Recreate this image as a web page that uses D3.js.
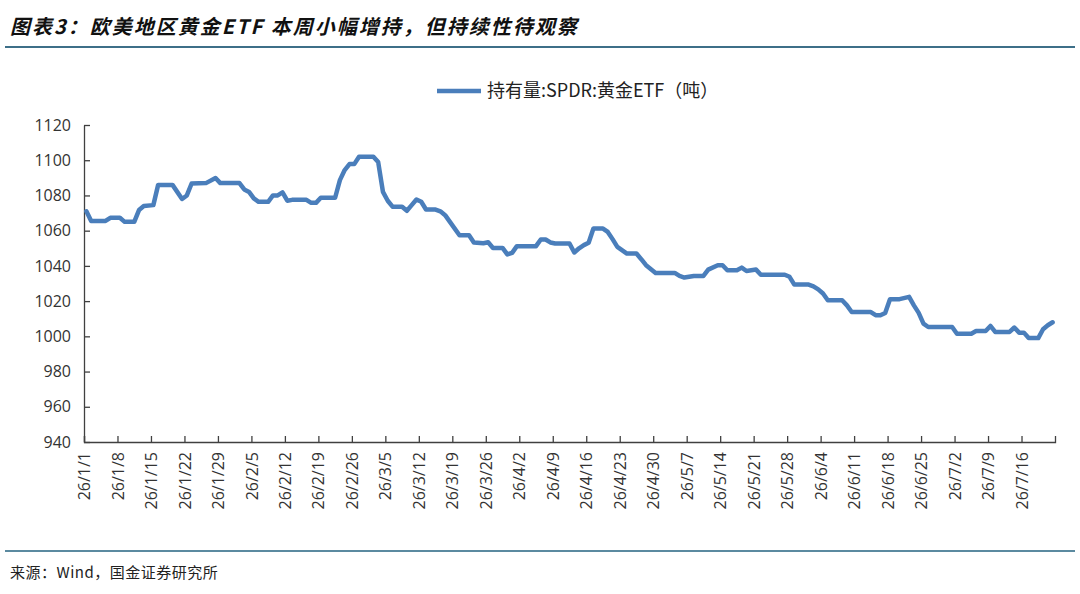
<!DOCTYPE html>
<html lang="zh">
<head>
  <meta charset="UTF-8">
  <title>欧美地区黄金ETF</title>
  <script src="https://d3js.org/d3.v7.min.js"></script>
</head>
<style>
  body{
    margin:0;
    background:#fff;
    font-family: "Noto Sans CJK SC", "Noto Sans", sans-serif;
  }
  .title{
    font-size:20px;
    font-weight:bold;
    font-style:italic;
    letter-spacing:2px;
    fill:#111;
  }
  .legend text, .source{
    fill:#222;
  }
  .axis path, .axis line{
    stroke:#404040;
    stroke-width:1.3px;
  }
  .axis text{
    font-family: "Open Sans", "Noto Sans", sans-serif;
    fill:#333;
  }
</style>
<body>
  <div id="chart"></div>
</body>
<script>
// SPDR gold ETF holdings (tonnes)
var dates = ["2026-01-01","2026-01-02","2026-01-05","2026-01-06","2026-01-08","2026-01-09","2026-01-11","2026-01-12",
  "2026-01-13","2026-01-15","2026-01-16","2026-01-19","2026-01-21","2026-01-22","2026-01-23","2026-01-26",
  "2026-01-28","2026-01-29","2026-02-02","2026-02-03","2026-02-04","2026-02-05","2026-02-06","2026-02-08",
  "2026-02-09","2026-02-10","2026-02-11","2026-02-12","2026-02-13","2026-02-16","2026-02-17","2026-02-18",
  "2026-02-19","2026-02-22","2026-02-23","2026-02-24","2026-02-25","2026-02-26","2026-02-27","2026-03-02",
  "2026-03-03","2026-03-04","2026-03-05","2026-03-06","2026-03-08","2026-03-09","2026-03-10","2026-03-11",
  "2026-03-12","2026-03-13","2026-03-15","2026-03-16","2026-03-17","2026-03-18","2026-03-20","2026-03-22",
  "2026-03-23","2026-03-25","2026-03-26","2026-03-27","2026-03-29","2026-03-30","2026-03-31","2026-04-01",
  "2026-04-05","2026-04-06","2026-04-07","2026-04-08","2026-04-09","2026-04-12","2026-04-13","2026-04-14",
  "2026-04-15","2026-04-16","2026-04-17","2026-04-19","2026-04-20","2026-04-21","2026-04-22","2026-04-24",
  "2026-04-26","2026-04-27","2026-04-28","2026-04-30","2026-05-04","2026-05-05","2026-05-06","2026-05-08",
  "2026-05-10","2026-05-11","2026-05-13","2026-05-14","2026-05-15","2026-05-17","2026-05-18","2026-05-19",
  "2026-05-21","2026-05-22","2026-05-27","2026-05-28","2026-05-29","2026-06-01","2026-06-02","2026-06-03",
  "2026-06-04","2026-06-05","2026-06-08","2026-06-09","2026-06-10","2026-06-14","2026-06-15","2026-06-16",
  "2026-06-17","2026-06-18","2026-06-20","2026-06-22","2026-06-23","2026-06-24","2026-06-25","2026-06-26",
  "2026-07-01","2026-07-02","2026-07-05","2026-07-06","2026-07-08","2026-07-09","2026-07-10","2026-07-13",
  "2026-07-14","2026-07-15","2026-07-16","2026-07-17","2026-07-19","2026-07-20","2026-07-21","2026-07-22"];
var holdings = [1071,1065.5,1065.5,1067.3,1067.3,1065,1065,1071.7,
  1074,1074.5,1086,1086,1078,1080,1086.8,1087,
  1089.9,1087,1087,1083.4,1082,1078.3,1076.4,1076.4,
  1080,1080,1081.7,1077,1077.5,1077.5,1075.8,1075.8,
  1078.7,1078.7,1088.7,1094.4,1097.8,1097.8,1102,1102,
  1099,1082,1077,1073.6,1073.6,1071.3,1074.5,1077.7,
  1076.4,1072,1072,1071,1068.8,1065,1057.4,1057.4,
  1053.3,1052.9,1053.4,1050.2,1050.2,1046.5,1047.4,1051.2,
  1051.2,1055,1055,1053.3,1052.7,1052.7,1047.6,1050,
  1051.8,1053.1,1061.2,1061.2,1059.3,1055.2,1050.8,1047,
  1047,1043.8,1040.4,1036,1036,1034.3,1033.4,1034.3,
  1034.3,1037.9,1040.4,1040.4,1037.5,1037.5,1039,1037.1,
  1037.9,1035,1035,1033.8,1029.4,1029.4,1028.4,1026.7,
  1024.3,1020.5,1020.5,1017.6,1013.8,1013.8,1012,1012,
  1013.3,1021.1,1021.1,1022.4,1017.6,1013.3,1007.2,1005.3,
  1005.3,1001.5,1001.5,1003,1003,1005.9,1002.5,1002.5,
  1005,1002.1,1002.1,999,999,1004,1006.3,1008];
var xTickLabels = ["26/1/1","26/1/8","26/1/15","26/1/22","26/1/29","26/2/5","26/2/12","26/2/19","26/2/26",
  "26/3/5","26/3/12","26/3/19","26/3/26","26/4/2","26/4/9","26/4/16","26/4/23","26/4/30","26/5/7",
  "26/5/14","26/5/21","26/5/28","26/6/4","26/6/11","26/6/18","26/6/25","26/7/2","26/7/9","26/7/16"];
var yTicks = [940,960,980,1000,1020,1040,1060,1080,1100,1120];
var seriesName = "持有量:SPDR:黄金ETF（吨）";

var width = 1080, height = 594;
// plot box (note: "top" is reserved on window, so use other names)
var plotLeft = 84, plotRight = 1055, plotTop = 125, plotBottom = 442;
var lineColour = "#4a7ebb";

var parseDate = d3.timeParse("%Y-%m-%d");
var parseTick = d3.timeParse("%y/%m/%d");

var data = dates.map(function(d, i){
  // each day sits in the middle of its slot
  return {date: d3.timeHour.offset(parseDate(d), 12), value: holdings[i]};
});
var tickDates = xTickLabels.map(function(d){ return parseTick(d); });

var xScale = d3.scaleTime()
  .domain([parseDate("2026-01-01"), parseDate("2026-07-23")])
  .range([plotLeft, plotRight]);
var yScale = d3.scaleLinear()
  .domain([940, 1120])
  .range([plotBottom, plotTop]);

var svg = d3.select("#chart").append("svg")
  .attr("width", width)
  .attr("height", height);

// title and rule
svg.append("text")
  .attr("class", "title")
  .attr("x", 10)
  .attr("y", 34)
  .text("图表3：欧美地区黄金ETF 本周小幅增持，但持续性待观察");
svg.append("line")
  .attr("x1", 5).attr("x2", 1075)
  .attr("y1", 47).attr("y2", 47)
  .attr("stroke", "#3d6f88")
  .attr("stroke-width", 2);

// legend
var legend = svg.append("g").attr("class", "legend");
legend.append("line")
  .attr("x1", 437).attr("x2", 481)
  .attr("y1", 91).attr("y2", 91)
  .attr("stroke", lineColour)
  .attr("stroke-width", 4.5);
legend.append("text")
  .attr("x", 487)
  .attr("y", 97)
  .attr("font-size", "18px")
  .text(seriesName);

// y axis
var yAxis = d3.axisLeft(yScale)
  .tickValues(yTicks)
  .tickSize(-6)
  .tickSizeOuter(0)
  .tickPadding(13)
  .tickFormat(d3.format("d"));
svg.append("g")
  .attr("class", "axis")
  .attr("transform", "translate(" + plotLeft + ",0)")
  .call(yAxis)
  .selectAll("text")
    .attr("font-size", "16px");

// x axis
var xAxis = d3.axisBottom(xScale)
  .tickValues(tickDates)
  .tickSize(-6)
  .tickSizeOuter(-6)
  .tickFormat(function(d, i){ return xTickLabels[i]; });
svg.append("g")
  .attr("class", "axis")
  .attr("transform", "translate(0," + plotBottom + ")")
  .call(xAxis)
  .selectAll("text")
    .attr("font-size", "16px")
    .attr("transform", "rotate(-90)")
    .attr("text-anchor", "end")
    .attr("x", -10)
    .attr("y", 0)
    .attr("dy", "0.35em");

// series line
var line = d3.line()
  .x(function(d){ return xScale(d.date); })
  .y(function(d){ return yScale(d.value); });
svg.append("path")
  .datum(data)
  .attr("d", line)
  .attr("fill", "none")
  .attr("stroke", lineColour)
  .attr("stroke-width", 4.5)
  .attr("stroke-linejoin", "round")
  .attr("stroke-linecap", "round");

// source
svg.append("line")
  .attr("x1", 5).attr("x2", 1075)
  .attr("y1", 551).attr("y2", 551)
  .attr("stroke", "#5b8aa0")
  .attr("stroke-width", 2);
svg.append("text")
  .attr("class", "source")
  .attr("x", 10)
  .attr("y", 578)
  .attr("font-size", "15px")
  .attr("letter-spacing", "0.5px")
  .text("来源：Wind，国金证券研究所");
</script>
</html>
